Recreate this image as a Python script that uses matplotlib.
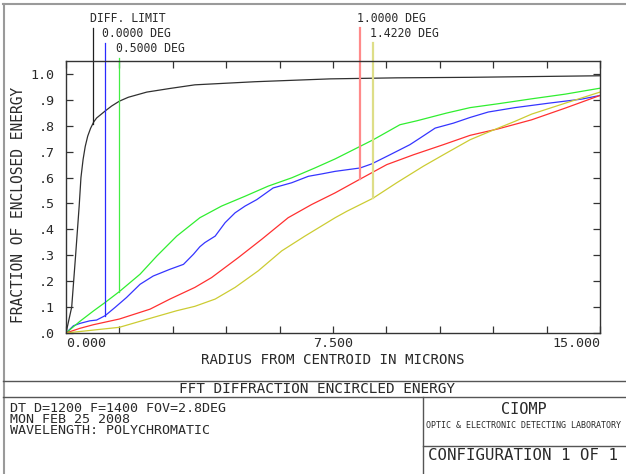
import numpy as np
import matplotlib
matplotlib.use("Agg")
import matplotlib.pyplot as plt
import matplotlib.transforms as mtransforms
from matplotlib.lines import Line2D

# ---------------- data ----------------
diff_r = [0, 0.16, 0.27, 0.37, 0.42, 0.48, 0.54, 0.61, 0.69, 0.78, 0.86, 1.10, 1.28,
          1.50, 1.75, 2.27, 2.92, 3.62, 5.31, 7.42, 9.29, 11.35, 15.0]
diff_v = [0, 0.10, 0.30, 0.49, 0.60, 0.67, 0.72, 0.76, 0.79, 0.815, 0.83, 0.857, 0.876,
          0.895, 0.91, 0.93, 0.944, 0.958, 0.97, 0.981, 0.985, 0.987, 0.993]

blue_r = [0, 0.21, 0.39, 0.67, 0.86, 1.10, 1.38, 1.70, 2.08, 2.45, 2.92, 3.30, 3.58, 3.76,
          3.90, 4.19, 4.47, 4.75, 5.03, 5.36, 5.82, 6.34, 6.81, 7.18, 7.56, 8.26, 8.59,
          9.10, 9.66, 9.94, 10.37, 10.88, 11.35, 11.86, 12.61, 13.55, 14.49, 15.0]
blue_v = [0, 0.028, 0.037, 0.047, 0.05, 0.067, 0.099, 0.137, 0.188, 0.22, 0.246, 0.265,
          0.304, 0.333, 0.349, 0.374, 0.426, 0.464, 0.49, 0.515, 0.56, 0.58, 0.605, 0.614,
          0.624, 0.637, 0.653, 0.688, 0.727, 0.752, 0.791, 0.81, 0.832, 0.853, 0.87,
          0.887, 0.903, 0.917]

green_r = [0, 0.39, 0.77, 1.10, 1.50, 2.08, 2.55, 3.11, 3.76, 4.37, 5.03, 5.68, 6.34,
           6.99, 7.56, 7.98, 8.63, 9.38, 9.85, 10.69, 11.35, 12.14, 13.08, 14.02, 15.0]
green_v = [0, 0.045, 0.085, 0.118, 0.160, 0.227, 0.297, 0.374, 0.445, 0.49, 0.528, 0.567,
           0.599, 0.637, 0.672, 0.701, 0.746, 0.804, 0.819, 0.849, 0.87, 0.885, 0.904,
           0.922, 0.945]

red_r = [0, 0.39, 0.77, 1.50, 2.36, 2.92, 3.62, 4.09, 4.84, 5.50, 6.24, 6.90, 7.56, 8.26,
         9.01, 9.76, 10.60, 11.35, 12.14, 13.08, 14.02, 15.0]
red_v = [0, 0.018, 0.032, 0.054, 0.092, 0.131, 0.176, 0.214, 0.291, 0.362, 0.445, 0.496,
         0.541, 0.594, 0.65, 0.688, 0.727, 0.763, 0.788, 0.823, 0.868, 0.917]

yellow_r = [0, 1.50, 2.45, 3.11, 3.62, 4.19, 4.75, 5.40, 6.06, 6.71, 7.56, 7.89, 8.62,
            9.29, 10.04, 10.69, 11.35, 11.68, 12.14, 12.61, 13.08, 14.02, 15.0]
yellow_v = [0, 0.022, 0.06, 0.086, 0.103, 0.131, 0.176, 0.24, 0.317, 0.374, 0.445, 0.47,
            0.520, 0.58, 0.644, 0.695, 0.746, 0.765, 0.791, 0.817, 0.845, 0.887, 0.93]

marker_labels = ["DIFF. LIMIT", "0.0000 DEG", "0.5000 DEG", "1.0000 DEG", "1.4220 DEG"]
marker_r = [0.75, 1.10, 1.50, 8.26, 8.62]

x_ticks = [0, 1.5, 3.0, 4.5, 6.0, 7.5, 9.0, 10.5, 12.0, 13.5, 15.0]
x_ticklabels = ["0.000", "", "", "", "", "7.500", "", "", "", "", "15.000"]
y_ticks = [0, 0.1, 0.2, 0.3, 0.4, 0.5, 0.6, 0.7, 0.8, 0.9, 1.0]
y_ticklabels = [".0", ".1", ".2", ".3", ".4", ".5", ".6", ".7", ".8", ".9", "1.0"]

title = "FFT DIFFRACTION ENCIRCLED ENERGY"
info_lines = ["DT D=1200 F=1400 FOV=2.8DEG", "MON FEB 25 2008", "WAVELENGTH: POLYCHROMATIC"]
org_name = "CIOMP"
lab_name = "OPTIC & ELECTRONIC DETECTING LABORATORY"
config_text = "CONFIGURATION 1 OF 1"

# ---------------- figure ----------------
W, H = 626, 474
fig = plt.figure(figsize=(W / 100, H / 100), dpi=100)
fig.patch.set_facecolor("white")
mono = "DejaVu Sans Mono"
txt_col = "#2a2a2a"

def fx(px):
    return px / W

def fy(py):
    return 1 - py / H

ax_l, ax_r, ax_t, ax_b = 66, 600, 61, 333
ax = fig.add_axes([fx(ax_l), fy(ax_b), (ax_r - ax_l) / W, (ax_b - ax_t) / H])
ax.set_xlim(0, 15)
ax.set_ylim(0, 1.05)

series = [
    (diff_r, diff_v, "#303030"),
    (blue_r, blue_v, "#3535ff"),
    (green_r, green_v, "#30ee30"),
    (red_r, red_v, "#ff3030"),
    (yellow_r, yellow_v, "#cccc33"),
]
for r, v, c in series:
    ax.plot(r, v, color=c, lw=0.9, solid_joinstyle="round")

# marker vertical lines
marker_colors = ["#202020", "#2a2aff", "#44ee44", "#ff8a8a", "#dede88"]
marker_lw = [0.9, 0.9, 0.9, 1.6, 1.6]
marker_top = [1.121, 1.067, 1.011, 1.121, 1.067]
trans = mtransforms.blended_transform_factory(ax.transData, ax.transAxes)
label_trans = trans + mtransforms.ScaledTranslation(-3 / 100, 0, fig.dpi_scale_trans)
for (r, v, c), mr, mc, lw, top, lab in zip(series, marker_r, marker_colors, marker_lw,
                                           marker_top, marker_labels):
    yv = float(np.interp(mr, r, v))
    ybot = yv / 1.05
    ax.add_line(Line2D([mr, mr], [ybot, top], transform=trans, color=mc, lw=lw,
                       clip_on=False))
    ax.text(mr, top + 0.012, lab, transform=label_trans, ha="left", va="bottom",
            fontsize=8.3, family=mono, color=txt_col)

# axes styling
for s in ax.spines.values():
    s.set_color("#333333")
    s.set_linewidth(1.0)
ax.set_xticks(x_ticks)
ax.set_xticklabels(x_ticklabels)
ax.set_yticks(y_ticks)
ax.set_yticklabels(y_ticklabels)
ax.tick_params(axis="both", direction="in", length=5, width=0.9, color="#333333",
               top=True, right=True, labelsize=9.6, labelcolor=txt_col)
ax.tick_params(axis="x", pad=3)
ax.tick_params(axis="y", pad=8)
for lbl in ax.get_xticklabels() + ax.get_yticklabels():
    lbl.set_family(mono)
xl = ax.get_xticklabels()
xl[0].set_horizontalalignment("left")
xl[-1].set_horizontalalignment("right")

fig.text(fx(333), fy(360), "RADIUS FROM CENTROID IN MICRONS", ha="center", va="center",
         fontsize=10.2, family=mono, color=txt_col)
fig.text(fx(19), fy(205), "FRACTION OF ENCLOSED ENERGY", ha="center", va="center",
         rotation=90, fontsize=10.5, family=mono, color=txt_col)

# ---------------- frame / title block ----------------
def hline(y, x0, x1, col="#555555", lw=1.0):
    fig.add_artist(Line2D([fx(x0), fx(x1)], [fy(y), fy(y)], color=col, lw=lw))

def vline(x, y0, y1, col="#555555", lw=1.0):
    fig.add_artist(Line2D([fx(x), fx(x)], [fy(y0), fy(y1)], color=col, lw=lw))

hline(4, 3, W, col="#9a9a9a", lw=1.5)
vline(3.5, 4, H, col="#9a9a9a", lw=1.5)
hline(381, 3, W)
hline(397, 3, W)
vline(423, 397, H)
hline(446, 423, W)

fig.text(fx(317), fy(389), title, ha="center", va="center", fontsize=10.4,
         family=mono, color=txt_col)
fig.text(fx(10), fy(402), "\n".join(info_lines), ha="left", va="top", fontsize=9.6,
         family=mono, color=txt_col, linespacing=0.79)
fig.text(fx(524), fy(409), org_name, ha="center", va="center", fontsize=11,
         family=mono, color=txt_col)
fig.text(fx(524), fy(426), lab_name, ha="center", va="center", fontsize=6.0,
         family=mono, color=txt_col)
fig.text(fx(428), fy(455), config_text, ha="left", va="center", fontsize=11.3,
         family=mono, color=txt_col)

fig.savefig("out.png", dpi=100, facecolor="white")
